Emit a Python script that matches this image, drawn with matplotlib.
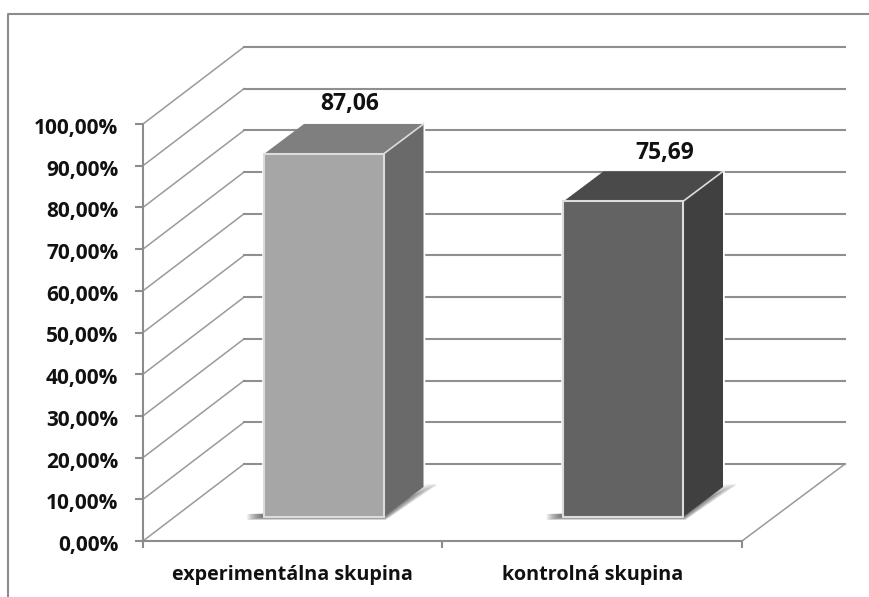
import matplotlib
matplotlib.use("Agg")
import matplotlib.pyplot as plt
from matplotlib.patches import Polygon
from matplotlib.transforms import ScaledTranslation

categories = ["experimentálna skupina", "kontrolná skupina"]
values = [87.06, 75.69]
value_labels = ["87,06", "75,69"]
ticks = [0, 10, 20, 30, 40, 50, 60, 70, 80, 90, 100]
tick_labels = ["0,00%", "10,00%", "20,00%", "30,00%", "40,00%", "50,00%",
               "60,00%", "70,00%", "80,00%", "90,00%", "100,00%"]

FONT = "Open Sans"
W, H = 870, 597
LEFT, RIGHT, BOTTOM, TOP = 143, 742, 541, 124

fig = plt.figure(figsize=(W / 100, H / 100), dpi=100, facecolor="white")
ax = fig.add_axes([LEFT / W, 1 - BOTTOM / H, (RIGHT - LEFT) / W, (BOTTOM - TOP) / H])
ax.set_xlim(0, len(categories))
ax.set_ylim(0, 100)
ax.patch.set_visible(False)

# one pixel expressed in data units on each axis
px = len(categories) / (RIGHT - LEFT)
py = 100 / (BOTTOM - TOP)

WALL_DX, WALL_DY = 101 * px, 77 * py
GRID = "#8f8f8f"
SLANT = "#9a9a9a"

# outer chart border, drawn in figure pixels
fig.add_artist(plt.Line2D([8 / W, 8 / W, 1], [0, 1 - 14 / H, 1 - 14 / H],
                          color="#8c8c8c", lw=1.5))

# back wall and side wall grid lines
for t in ticks:
    ax.plot([0, WALL_DX], [t, t + WALL_DY], color=SLANT, lw=1.1, clip_on=False, zorder=1)
    ax.plot([WALL_DX, len(categories) + 103 * px], [t + WALL_DY, t + WALL_DY],
            color=GRID, lw=1.5, clip_on=False, zorder=1)
# right edge of the floor
ax.plot([len(categories), len(categories) + 103 * px], [0, WALL_DY],
        color=SLANT, lw=1.1, clip_on=False, zorder=1)

# bar geometry
BAR_W = 119.5 * px
BAR_SHIFT = 31 * px
BAR_BASE = 24 * py
DEPTH_X, DEPTH_Y = 40 * px, 30 * py

bar_colors = [("#a6a6a6", "#6a6a6a", "#7f7f7f"), ("#636363", "#404040", "#4a4a4a")]
label_shift = [(6, 20), (22, 18)]

for i, (v, lab) in enumerate(zip(values, value_labels)):
    x0 = i + 0.5 - BAR_W / 2 + BAR_SHIFT
    x1 = x0 + BAR_W
    top = BAR_BASE + v
    front, side, lid = bar_colors[i]

    # white halo separating the bar from the grid lines
    ax.add_patch(Polygon([(x1, BAR_BASE), (x1 + DEPTH_X, BAR_BASE + DEPTH_Y),
                          (x1 + DEPTH_X, top + DEPTH_Y), (x1, top)],
                         closed=True, fc=side, ec="white", lw=2.6, zorder=2, clip_on=False))
    ax.add_patch(Polygon([(x0, BAR_BASE), (x1, BAR_BASE), (x1, top), (x0, top)],
                         closed=True, fc="white", ec="white", lw=2.6, zorder=2, clip_on=False))

    # soft floor shadow built from stacked translucent outlines
    for g in range(12, 0, -1):
        s = g * 1.0
        ax.add_patch(Polygon(
            [(x0 - s * 1.4 * px, BAR_BASE - (s * 0.25) * py),
             (x1 + s * 0.2 * px, BAR_BASE - (s * 0.25) * py),
             (x1 + DEPTH_X + s * 1.1 * px, BAR_BASE + DEPTH_Y + (3 - s * 0.1) * py),
             (x1 + DEPTH_X + s * 1.1 * px, BAR_BASE + DEPTH_Y + 3 * py),
             (x1, BAR_BASE + 6 * py),
             (x0 - s * 1.4 * px, BAR_BASE + 3 * py)],
            closed=True, fc="#4a4a4a", ec="none", alpha=0.10, zorder=3, clip_on=False))

    ax.add_patch(Polygon([(x1, BAR_BASE), (x1 + DEPTH_X, BAR_BASE + DEPTH_Y),
                          (x1 + DEPTH_X, top + DEPTH_Y), (x1, top)],
                         closed=True, fc=side, ec="none", zorder=4, clip_on=False))
    ax.add_patch(Polygon([(x0, top), (x1, top), (x1 + DEPTH_X, top + DEPTH_Y),
                          (x0 + DEPTH_X, top + DEPTH_Y)],
                         closed=True, fc=lid, ec="none", zorder=4, clip_on=False))
    ax.plot([x1, x1 + DEPTH_X], [top, top + DEPTH_Y], color="#dcdcdc", lw=1.2, zorder=5, clip_on=False)
    ax.add_patch(Polygon([(x0, BAR_BASE), (x1, BAR_BASE), (x1, top), (x0, top)],
                         closed=True, fc=front, ec="#dcdcdc", lw=1.5, zorder=5, clip_on=False))

    dx, dy = label_shift[i]
    ax.text((x0 + x1 + DEPTH_X) / 2 + dx * px, top + DEPTH_Y + dy * py, lab,
            ha="center", va="center", fontsize=16.5, fontweight="bold",
            family=FONT, color="#111111", zorder=6)

# axes
for s in ("top", "right"):
    ax.spines[s].set_visible(False)
for s in ("left", "bottom"):
    ax.spines[s].set_color("#8c8c8c")
    ax.spines[s].set_linewidth(1.5)
ax.set_yticks(ticks)
ax.set_yticklabels(tick_labels, family=FONT, fontweight="bold", fontsize=15, color="#111111")
ax.tick_params(axis="y", length=5.8, width=1.5, color="#8c8c8c", pad=12)
label_offset = ScaledTranslation(0, -2 / 100, fig.dpi_scale_trans)
for lbl in ax.get_yticklabels():
    lbl.set_transform(lbl.get_transform() + label_offset)
ax.set_xticks(range(len(categories) + 1))
ax.set_xticklabels([])
ax.tick_params(axis="x", length=5, width=1.5, color="#8c8c8c")
for i, c in enumerate(categories):
    ax.text(i + 0.5, -34 * py, c, ha="center", va="center", family=FONT,
            fontweight="bold", fontsize=14.2, color="#111111", clip_on=False)

fig.savefig("out.png", dpi=100)
